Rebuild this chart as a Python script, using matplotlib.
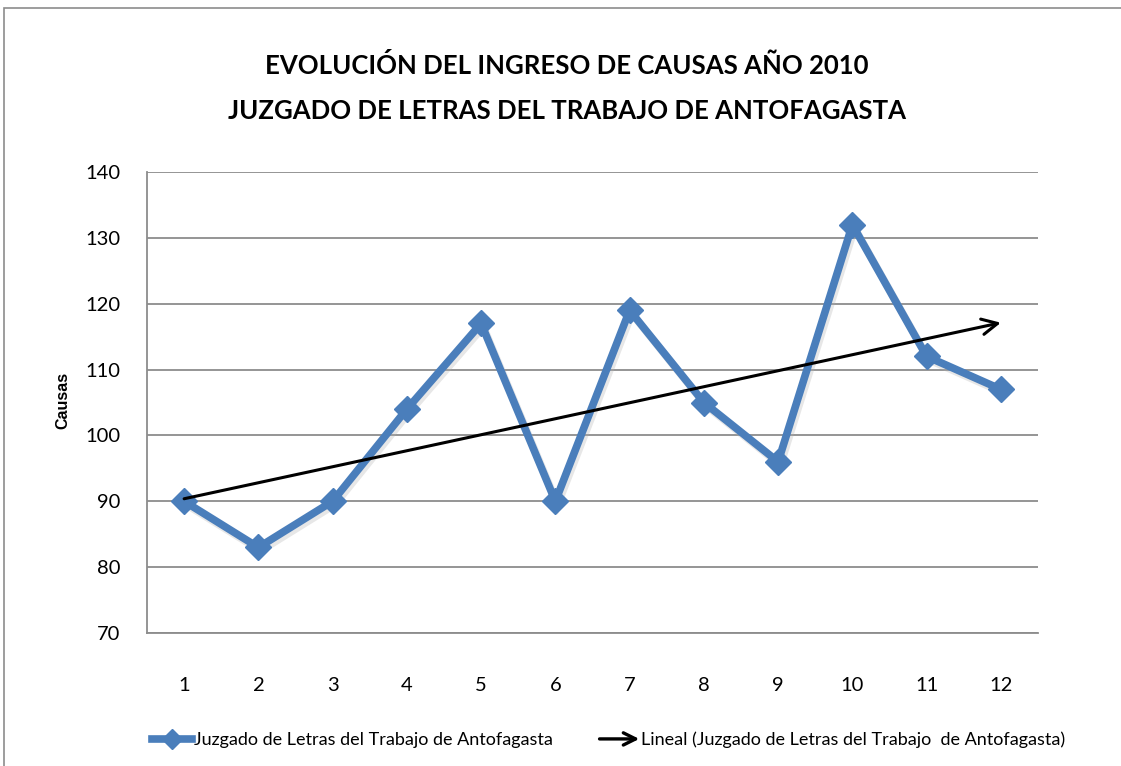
import matplotlib
matplotlib.use('Agg')
import matplotlib.pyplot as plt
from matplotlib.patches import Rectangle, FancyArrowPatch
from matplotlib.lines import Line2D
from matplotlib.legend_handler import HandlerPatch
import numpy as np

meses = [1, 2, 3, 4, 5, 6, 7, 8, 9, 10, 11, 12]
causas = [90, 83, 90, 104, 117, 90, 119, 105, 96, 132, 112, 107]
yticks = [70, 80, 90, 100, 110, 120, 130, 140]

titulo1 = 'EVOLUCIÓN DEL INGRESO DE CAUSAS AÑO 2010'
titulo2 = 'JUZGADO DE LETRAS DEL TRABAJO DE ANTOFAGASTA'
serie = 'Juzgado de Letras del Trabajo de Antofagasta'
tendencia = 'Lineal (Juzgado de Letras del Trabajo  de Antofagasta)'

fuente = 'Lato'
azul = '#4A7EBB'
gris = '#8C8C8C'


class HandlerFlecha(HandlerPatch):
    def create_artists(self, legend, orig_handle, xdescent, ydescent, width,
                       height, fontsize, trans):
        y = height / 2 - ydescent
        p = FancyArrowPatch((-xdescent, y), (width - xdescent, y),
                            arrowstyle='->', mutation_scale=22, lw=2.4,
                            color='black', shrinkA=0, shrinkB=0)
        p.set_transform(trans)
        return [p]


fig = plt.figure(figsize=(11.21, 7.66), dpi=100)
fig.patches.append(Rectangle((4 / 1121, -0.1), 1.2, 1.1 - 8.5 / 766,
                             transform=fig.transFigure, fill=False,
                             edgecolor=gris, linewidth=1.2))

ax = fig.add_axes([147 / 1121, 133 / 766, 891 / 1121, 461 / 766])

# linea de tendencia (minimos cuadrados)
m, b = np.polyfit(meses, causas, 1)
x0, x1 = meses[0], meses[-1]
ax.annotate('', xy=(x1, m * x1 + b), xytext=(x0, m * x0 + b),
            arrowprops=dict(arrowstyle='->', color='black', lw=2.2,
                            mutation_scale=28, shrinkA=0, shrinkB=0),
            zorder=4)

# sombra + serie
ax.plot(np.array(meses) + 0.03, np.array(causas) - 0.5, color='#b0b0b0', lw=5.5,
        alpha=0.3, zorder=2, solid_joinstyle='miter')
ax.plot(meses, causas, color=azul, lw=5.5, marker='D', markersize=13.5,
        markerfacecolor=azul, markeredgecolor=azul, zorder=3,
        solid_joinstyle='miter')

ax.set_xlim(0.5, 12.5)
ax.set_ylim(70, 140)
ax.set_yticks(yticks)
ax.set_xticks(meses)
ax.yaxis.grid(True, color=gris, lw=1.3)
ax.set_axisbelow(True)
for s in ['top', 'right']:
    ax.spines[s].set_visible(False)
for s in ['left', 'bottom']:
    ax.spines[s].set_color(gris)
    ax.spines[s].set_linewidth(1.3)
ax.tick_params(length=0, labelsize=14.5)
ax.tick_params(axis='x', pad=32)
ax.tick_params(axis='y', pad=19)
for lab in ax.get_xticklabels() + ax.get_yticklabels():
    lab.set_fontfamily(fuente)

ax.set_ylabel('Causas', fontsize=11.5, fontweight='bold', family='Liberation Sans')
ax.yaxis.set_label_coords(-0.086, 0.505)

fig.text(0.506, 1 - 66 / 766, titulo1, ha='center', va='center', fontsize=18.5,
         fontweight='bold', family=fuente)
fig.text(0.506, 1 - 111 / 766, titulo2, ha='center', va='center', fontsize=18.5,
         fontweight='bold', family=fuente)

h1 = Line2D([], [], color=azul, lw=5.5, marker='D', markersize=10)
h2 = FancyArrowPatch((0, 0), (1, 0))
fig.legend([h1, h2], [serie, tendencia], loc='center', ncol=2,
           bbox_to_anchor=(0.543, 0.034), frameon=False, handlelength=2.2,
           handletextpad=0.1, columnspacing=2.6,
           handler_map={FancyArrowPatch: HandlerFlecha()},
           prop={'family': fuente, 'size': 13})

fig.savefig('out.png', dpi=100)
